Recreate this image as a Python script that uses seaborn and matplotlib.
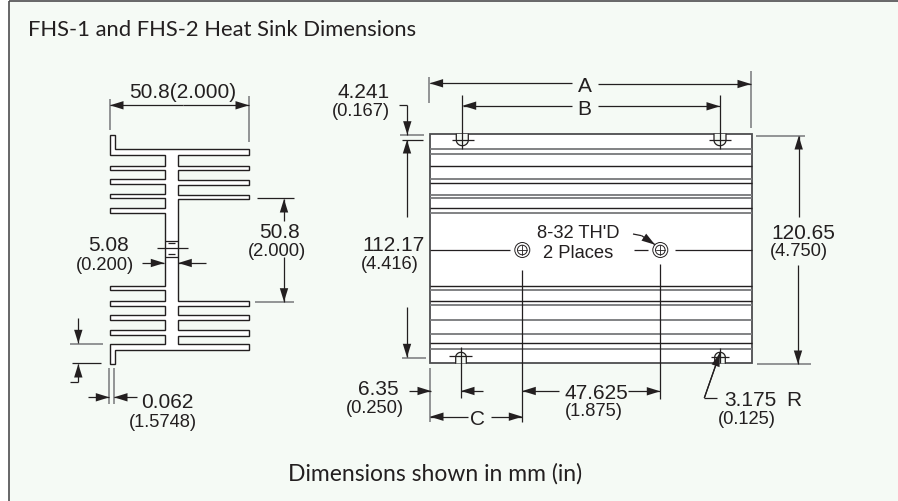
import numpy as np
import pandas as pd
import seaborn as sns
import matplotlib.pyplot as plt

# Everything in its own 898x502 units (y runs down)
BG = '#f5faf5'
DARK = '#231f20'
GREY = '#77787b'

# side view of the extrusion
SPINE_L, SPINE_R = 165, 178
FIN_L, FIN_R = 109.5, 249
LEFT_FINS = [(167, 170.7), (180, 185), (195, 199.3), (209.3, 213.7),
             (287.3, 291.3), (301.7, 306.7), (316, 320.7), (331, 335.7)]
RIGHT_FINS = [(166.7, 170.7), (181, 185.7), (195.7, 200),
              (301.7, 306.7), (316, 321), (331.3, 337)]
TOP_PLATE = (150, 156)
BOTTOM_PLATE = (345, 351.3)
TAB_TOP, TAB_BOTTOM = 136, 365
TAB_INNER = 115.3

# plan view
PLATE_BOX = (430, 135, 752, 364.3)
RIB_Y = [150.3, 155, 166.7, 180.3, 184.3, 196, 199, 209.3, 213.7,
         287.3, 291.3, 302.3, 306.3, 320.7, 335, 344.3, 349.7]
RIB_DARK = [False, False, True, False, True, False, False, True, False,
            True, False, True, False, False, False, True, False]
TOP_NOTCH_X = [462.3, 720]
BOTTOM_NOTCH_X = [461, 720]
HOLE_X = [522.3, 660.3]
HOLE_Y = 251

# dimension lines: x1, y1, x2, y2
DARK_LINES = [
    (522.3, 271, 522.3, 423), (660.3, 265, 660.3, 400),
    (430, 251, 510, 251), (634, 251, 648, 251), (675, 251, 752, 251),
    (462.3, 96, 462.3, 150), (720, 96, 720, 150),
    (452.3, 141.3, 474.3, 141.3), (709.3, 141.3, 731, 141.3),
    (449.3, 357.3, 471.7, 357.3), (711, 358.3, 729.3, 358.3),
    (461, 348.3, 461, 399), (720, 349.3, 720, 364),
    (157, 249.3, 188, 249.3), (165, 241.7, 178, 241.7), (165, 258.3, 178, 258.3),
    (168, 244, 175, 244), (168, 255, 175, 255),
    (257, 199, 294, 199), (72, 364, 101, 364), (70, 382.7, 78.3, 382.7),
    (399.3, 106, 407.3, 106), (401.7, 140.7, 422.7, 140.7),
    (704.3, 399, 717, 399), (704.3, 399, 720, 354),
    (633, 235, 641.7, 236.7),
]
GREY_LINES = [
    (110, 100, 110, 131), (249, 96.7, 249, 142.7),
    (429, 78, 429, 104), (750.7, 71.7, 750.7, 129.3),
    (400, 136, 424.3, 136), (401.7, 359, 425.7, 359),
    (756, 136.7, 805, 136.7), (757.3, 365, 810.7, 365),
    (255, 302.7, 294, 302.7), (70, 344.7, 103, 344.7),
    (109.3, 369.3, 109.3, 405), (113.7, 369.3, 113.7, 405),
    (430, 369.3, 430, 423.3),
]
# arrows: tail x, tail y, tip x, tip y
ARROWS = [
    (183, 106.3, 110, 106.3), (183, 106.3, 249, 106.3),
    (284, 221.7, 284, 200), (284, 258, 284, 302.7),
    (141.7, 264, 164.3, 264), (205.7, 264, 178.3, 264),
    (78.3, 319, 78.3, 344.3), (78.3, 382.7, 78.3, 365),
    (87.7, 398.3, 109.3, 398.3), (136.7, 398.3, 114, 398.3),
    (572.3, 84.3, 429.6, 84.3), (598.3, 85, 751, 85),
    (572.3, 106.7, 462.7, 106.7), (598.3, 107.3, 720, 107.3),
    (407.3, 106, 407.3, 135.7), (407, 217.7, 407, 141),
    (407, 308.3, 407, 358.3),
    (798.7, 217.7, 798.7, 137), (798, 265.7, 798, 365),
    (409, 392, 431, 392), (483.3, 392, 461, 392),
    (467.7, 417.7, 430, 417.7), (490.7, 417.7, 522.3, 417.7),
    (559, 392, 522.3, 392), (628, 392.3, 660.3, 392.3),
    (641.7, 236.7, 655, 245.7), (704.3, 399, 720, 354),
]

# big labels and the small inch labels under them
BIG_LABELS = ['50.8(2.000)', '50.8', '5.08', '0.062', '4.241', '112.17', 'A', 'B', 'C',
              '6.35', '47.625', '3.175', 'R', '120.65']
BIG_X = [183, 280, 108.3, 167.5, 363.3, 394, 585, 584, 477.7, 378.3, 596.5, 750.7, 794, 803]
BIG_Y = [90, 231, 244, 401, 90, 244, 84.7, 107.7, 417.7, 387.3, 391.7, 398.3, 398.3, 231.3]
SMALL_LABELS = ['(2.000)', '(0.200)', '(1.5748)', '(0.167)', '(4.416)', '(0.250)',
                '(1.875)', '(0.125)', '(4.750)', "8-32 TH'D", '2 Places']
SMALL_X = [277, 105, 162.7, 360.8, 390, 375, 593.5, 747, 799, 578, 578]
SMALL_Y = [250, 263.3, 420.7, 109.3, 262.7, 406.7, 410, 417.3, 250, 232, 251]
TITLE = 'FHS-1 and FHS-2 Heat Sink Dimensions'
FOOTER = 'Dimensions shown in mm (in)'


def side_outline():
    # walk down the left side, then back up the right side
    xs = [FIN_R, TAB_INNER, TAB_INNER, FIN_L, FIN_L, SPINE_L]
    ys = [TOP_PLATE[0], TOP_PLATE[0], TAB_TOP, TAB_TOP, TOP_PLATE[1], TOP_PLATE[1]]
    for top, bottom in LEFT_FINS:
        xs += [SPINE_L, FIN_L, FIN_L, SPINE_L]
        ys += [top, top, bottom, bottom]
    xs += [SPINE_L, FIN_L, FIN_L, TAB_INNER, TAB_INNER, FIN_R, FIN_R, SPINE_R]
    ys += [BOTTOM_PLATE[0], BOTTOM_PLATE[0], TAB_BOTTOM, TAB_BOTTOM, BOTTOM_PLATE[1],
           BOTTOM_PLATE[1], BOTTOM_PLATE[0], BOTTOM_PLATE[0]]
    for top, bottom in reversed(RIGHT_FINS):
        xs += [SPINE_R, FIN_R, FIN_R, SPINE_R]
        ys += [bottom, bottom, top, top]
    xs += [SPINE_R, FIN_R, FIN_R]
    ys += [TOP_PLATE[1], TOP_PLATE[1], TOP_PLATE[0]]
    return xs, ys


def draw_segments(ax, segments, color, width):
    rows = []
    for i, (x1, y1, x2, y2) in enumerate(segments):
        rows.append({'seg': i, 'x': x1, 'y': y1})
        rows.append({'seg': i, 'x': x2, 'y': y2})
    df = pd.DataFrame(rows)
    sns.lineplot(data=df, x='x', y='y', units='seg', estimator=None, sort=False,
                 color=color, linewidth=width, solid_capstyle='butt', ax=ax, legend=False)


def draw_arrow(ax, tail_x, tail_y, tip_x, tip_y, color=DARK):
    d = np.array([tip_x - tail_x, tip_y - tail_y], dtype=float)
    d /= np.hypot(*d)
    n = np.array([-d[1], d[0]])
    tip = np.array([tip_x, tip_y])
    base = tip - d * 13.5
    corners = np.array([tip, base + n * 4.2, base - n * 4.2])
    ax.fill(corners[:, 0], corners[:, 1], color=color, lw=0, zorder=5)


def notch_path(x, half, y_edge, y_shoulder, y_end):
    t = np.linspace(np.pi, 0, 24)
    xs = x + half * np.cos(t)
    ys = y_shoulder + (y_end - y_shoulder) * np.sin(t)
    return np.r_[x - half, xs, x + half], np.r_[y_edge, ys, y_edge]


def main():
    sns.set_theme(style='white')
    plt.rcParams['font.family'] = ['Liberation Sans', 'DejaVu Sans']
    fig = plt.figure(figsize=(8.98, 5.02), dpi=100, facecolor='white')
    ax = fig.add_axes([0, 0, 1, 1])
    ax.set_xlim(0, 898)
    ax.set_ylim(502, 0)
    ax.axis('off')

    # panel
    ax.fill([9, 898, 898, 9], [2, 2, 502, 502], color=BG, lw=0, zorder=0)
    draw_segments(ax, [(9, 2, 898, 2), (9, 2, 9, 502)], '#4d4d4f', 1.2)

    # side view
    xs, ys = side_outline()
    ax.fill(xs, ys, facecolor='white', edgecolor=DARK, lw=1.0, zorder=2)

    # plan view
    left, top, right, bottom = PLATE_BOX
    ax.fill([left, right, right, left], [top, top, bottom, bottom], facecolor='white',
            edgecolor='#4d4d4f', lw=1.3, zorder=2)
    dark_ribs = [(left, y, right, y) for y, d in zip(RIB_Y, RIB_DARK) if d]
    grey_ribs = [(left, y, right, y) for y, d in zip(RIB_Y, RIB_DARK) if not d]
    draw_segments(ax, dark_ribs, DARK, 1.0)
    draw_segments(ax, grey_ribs, GREY, 1.3)

    for x in TOP_NOTCH_X:
        nx, ny = notch_path(x, 6, top, 141, 146.7)
        ax.fill(nx, ny, facecolor=BG, edgecolor='none', zorder=3)
        ax.plot(nx, ny, color=DARK, lw=0.9, zorder=4)
    for x in BOTTOM_NOTCH_X:
        nx, ny = notch_path(x, 5.3, bottom, 358.3, 353.3)
        ax.fill(nx, ny, facecolor=BG, edgecolor='none', zorder=3)
        ax.plot(nx, ny, color=DARK, lw=0.9, zorder=4)

    draw_segments(ax, DARK_LINES, DARK, 0.9)
    draw_segments(ax, GREY_LINES, GREY, 1.1)

    for tail_x, tail_y, tip_x, tip_y in ARROWS:
        draw_arrow(ax, tail_x, tail_y, tip_x, tip_y)
    draw_segments(ax, ARROWS, DARK, 0.9)
    for line in ax.get_lines():
        line.set_zorder(4)

    # holes sit on top of the centre lines
    for x in HOLE_X:
        ax.add_patch(plt.Circle((x, HOLE_Y), 7.5, fc='white', ec=DARK, lw=0.7, zorder=6))
        ax.add_patch(plt.Circle((x, HOLE_Y), 4.8, fc='white', ec=DARK, lw=0.7, zorder=6))
        ax.plot([x - 4.8, x + 4.8], [HOLE_Y, HOLE_Y], color=DARK, lw=0.6, zorder=7)
        ax.plot([x, x], [HOLE_Y - 4.8, HOLE_Y + 4.8], color=DARK, lw=0.6, zorder=7)

    for label, x, y in zip(BIG_LABELS, BIG_X, BIG_Y):
        ax.text(x, y, label, fontsize=15, color=DARK, ha='center', va='center_baseline', zorder=8)
    for label, x, y in zip(SMALL_LABELS, SMALL_X, SMALL_Y):
        ax.text(x, y, label, fontsize=13.2, color=DARK, ha='center', va='center_baseline', zorder=8)

    ax.text(28, 36, TITLE, fontsize=15.8, family='Lato', color=DARK, ha='left', va='baseline')
    ax.text(287.5, 481, FOOTER, fontsize=16.5, family='Lato', color=DARK, ha='left', va='baseline')

    fig.savefig('out.png', dpi=100)


if __name__ == '__main__':
    main()
